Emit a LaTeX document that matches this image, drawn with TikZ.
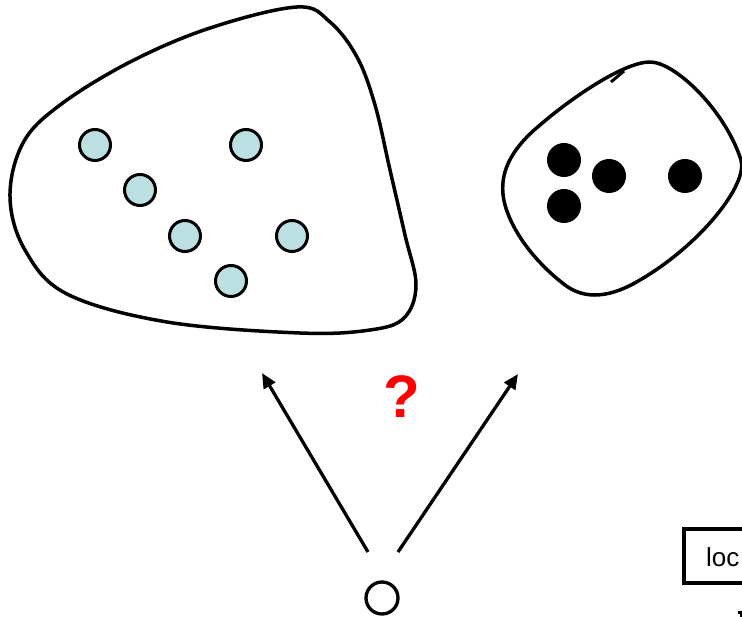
\documentclass[tikz,border=0pt]{standalone}
\usepackage{fontspec}
\setmainfont{Liberation Sans}
\usetikzlibrary{arrows.meta}
\definecolor{dotblue}{RGB}{188,224,226}
\definecolor{qred}{RGB}{255,0,0}
\tikzset{
  blob/.style={line width=3.5pt, line join=round},
  bluedot/.style={circle, draw, line width=3pt, fill=dotblue, minimum size=31pt, inner sep=0pt},
  blackdot/.style={circle, fill=black, minimum size=34pt, inner sep=0pt},
  arr/.style={line width=3.3pt, -{Triangle[length=15pt, width=13pt]}},
  boxstyle/.style={draw, line width=3.5pt},
}
\begin{document}
\begin{tikzpicture}[x=1pt, y=-1pt]
\useasboundingbox (0,0) rectangle (742,617);
% left blob
\draw[blob] plot[smooth cycle, tension=0.6] coordinates {
  (297,7) (330,22) (357,57) (375,105) (390,170) (405,235) (416,285)
  (404,318) (370,330) (300,333) (167,322) (67,294) (25,250) (10,197) (23,143)
  (60,105) (130,62) (210,28)};
% right blob
\draw[blob] (650,62) .. controls (675,62) and (725,110) .. (741,160)
  .. controls (748,185) and (700,245) .. (640,280)
  .. controls (610,298) and (585,300) .. (565,285)
  .. controls (545,270) and (515,240) .. (505,205)
  .. controls (497,175) and (510,150) .. (540,125)
  .. controls (575,95) and (625,62) .. (650,62) -- cycle;
\draw[line width=3pt] (611,82) -- (624,71);
% blue dots
\node[bluedot] (b1) at (95,145) {};
\node[bluedot] (b2) at (246,145) {};
\node[bluedot] (b3) at (140,190) {};
\node[bluedot] (b4) at (185,236) {};
\node[bluedot] (b5) at (292,236) {};
\node[bluedot] (b6) at (231,281) {};
% black dots
\node[blackdot] (k1) at (564,160) {};
\node[blackdot] (k2) at (609,176) {};
\node[blackdot] (k3) at (685,176) {};
\node[blackdot] (k4) at (564,206) {};
% bottom circle
\node[circle, draw, line width=3.3pt, minimum size=32pt, inner sep=0pt] (o) at (382,598) {};
% arrows
\coordinate (ls) at (368,552);
\coordinate (lt) at (262,373);
\coordinate (rs) at (398,552);
\coordinate (rt) at (518,374);
\draw[arr] (ls) -- (lt);
\draw[arr] (rs) -- (rt);
% question mark
\node[text=qred, font=\bfseries\fontsize{60}{60}\selectfont, inner sep=0pt] (q) at (402,397) {?};
% loc box (clipped at right edge)
\begin{scope}
\clip (0,0) rectangle (742,617);
\draw[boxstyle] (684,529) rectangle (800,583);
\node[anchor=west, font=\fontsize{26}{26}\selectfont, inner sep=0pt] (loc) at (706,557) {loc};
\draw[line width=3pt] (738,612.5) -- (745,612.5);
\draw[line width=3pt] (741,612) -- (741,620);
\end{scope}
\end{tikzpicture}
\end{document}
